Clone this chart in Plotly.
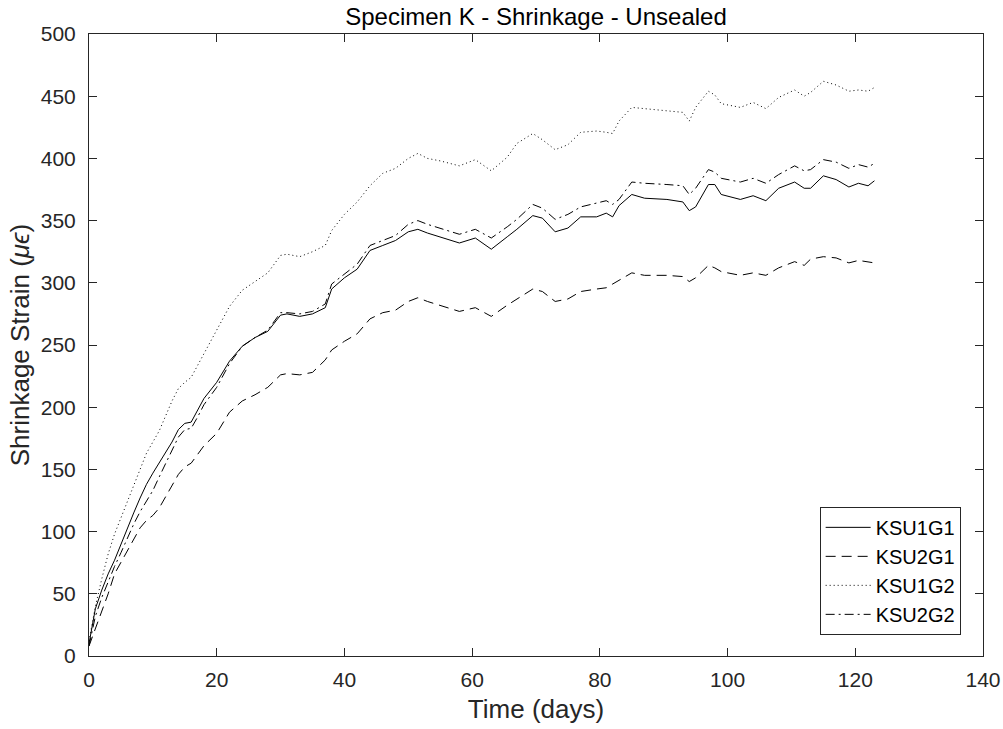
import plotly.graph_objects as go

# time axis shared by all gauges (days)
days = [0, 1, 2, 3, 4, 5, 6, 7, 8, 9, 10, 11, 12, 13, 14, 15, 16, 17, 18, 20,
        22, 24, 26, 28, 30, 31, 33, 35, 37, 38, 40, 42, 44, 46, 48, 50, 51.5, 53,
        55, 58, 60.5, 63, 65.5, 67, 69.5, 71, 73, 75, 77, 79.5, 81, 82, 83, 85,
        87, 90.5, 93, 94, 95, 97, 98, 99, 102, 104, 106, 108, 110.5, 112, 113,
        115, 117, 119, 120.5, 122, 123]

ksu1g1 = [10, 38, 53, 66, 77, 90, 102, 115, 127, 138, 147, 155, 163, 172, 182, 187, 188, 198, 207, 220,
          237, 249, 256, 261, 274, 275, 273, 275, 280, 295, 304, 311, 326, 330, 334, 341, 343, 340,
          337, 332, 336, 327, 337, 343, 354, 352, 341, 344, 353, 353, 356, 353, 362, 371,
          368, 367, 365, 358, 361, 379, 379, 371, 367, 370, 366, 376, 381, 376, 376,
          386, 383, 377, 380, 378, 382]

ksu2g1 = [8, 22, 35, 50, 66, 75, 84, 93, 103, 109, 113, 119, 128, 138, 146, 152, 155, 162, 169, 179,
          196, 205, 210, 216, 226, 227, 226, 228, 238, 246, 253, 259, 271, 276, 278, 285, 288, 285,
          282, 277, 280, 273, 282, 287, 295, 293, 285, 287, 293, 295, 296, 299, 302, 308,
          306, 306, 305, 301, 304, 314, 312, 309, 306, 308, 306, 312, 317, 314, 319,
          321, 320, 316, 318, 317, 316]

ksu1g2 = [12, 40, 62, 82, 98, 111, 125, 137, 150, 163, 172, 181, 193, 205, 215, 220, 224, 233, 243, 262,
          281, 294, 301, 308, 322, 323, 321, 325, 330, 342, 355, 365, 378, 388, 392, 400, 404, 400,
          398, 394, 399, 390, 401, 412, 420, 415, 407, 411, 421, 422, 421, 420, 430, 441,
          440, 438, 437, 430, 441, 454, 451, 444, 441, 445, 440, 449, 455, 450, 453,
          462, 459, 454, 455, 454, 457]

ksu2g2 = [8, 32, 47, 60, 72, 83, 95, 106, 116, 124, 133, 144, 155, 166, 176, 182, 183, 192, 202, 216,
          235, 249, 256, 262, 276, 276, 275, 277, 283, 299, 307, 315, 330, 334, 338, 347, 350, 347,
          344, 339, 343, 336, 345, 351, 363, 360, 351, 355, 361, 364, 366, 363, 367, 381,
          380, 379, 378, 371, 376, 391, 389, 384, 381, 384, 380, 387, 394, 390, 391,
          399, 397, 392, 395, 393, 396]

series = [
    ("KSU1G1", ksu1g1, "solid"),
    ("KSU2G1", ksu2g1, "10px,6px"),
    ("KSU1G2", ksu1g2, "1px,3px"),
    ("KSU2G2", ksu2g2, "9px,4px,2px,4px"),
]

fig = go.Figure()
for name, vals, dash in series:
    fig.add_trace(go.Scatter(x=days, y=vals, name=name, mode="lines",
                             line=dict(color="black", width=1, dash=dash)))

axis_common = dict(showgrid=False, zeroline=False, showline=True, linecolor="#262626",
                   linewidth=1, mirror="ticks", ticks="inside", ticklen=8,
                   tickcolor="#262626", automargin=False,
                   tickfont=dict(size=21, color="#262626"))

fig.update_layout(
    width=1003, height=729,
    margin=dict(l=89, r=20, t=34, b=73),
    paper_bgcolor="white", plot_bgcolor="white",
    font=dict(family="Liberation Sans, Arial", color="#262626"),
    title=dict(text="Specimen K - Shrinkage - Unsealed", xref="paper", x=0.5, xanchor="center",
               y=0.977, yanchor="middle", font=dict(size=24, color="black")),
    xaxis=dict(range=[0, 140], dtick=20, ticklabelstandoff=5,
               title=dict(text="Time (days)", font=dict(size=26), standoff=9),
               **axis_common),
    yaxis=dict(range=[0, 500], dtick=50, ticklabelstandoff=8,
               title=dict(text="Shrinkage Strain (<i>μϵ</i>)", font=dict(size=26), standoff=3),
               **axis_common),
    legend=dict(x=0.975, y=0.034, xanchor="right", yanchor="bottom",
                bgcolor="white", bordercolor="#262626", borderwidth=1,
                font=dict(size=20, color="black"), tracegroupgap=0, itemwidth=45),
    showlegend=True,
)

# drop the browser's default body margin so the figure fills the window
fig.write_html("out.html", config={"displayModeBar": False},
               post_script="document.body.style.margin='0';document.body.style.overflow='hidden';")
